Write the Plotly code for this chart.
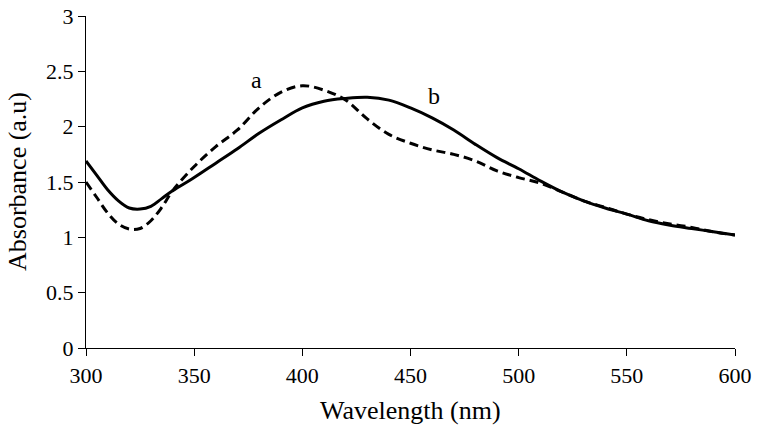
import plotly.graph_objects as go

wl_b = [300, 305, 310, 315, 320, 325, 330, 335, 340, 350, 360, 370, 380, 390, 400, 410, 420, 430,
        440, 450, 460, 470, 480, 490, 500, 510, 520, 530, 540, 550, 560, 570, 580, 590, 600]
abs_b = [1.69, 1.56, 1.43, 1.33, 1.265, 1.255, 1.28, 1.35, 1.42, 1.54, 1.67, 1.80, 1.94, 2.06, 2.17,
         2.23, 2.255, 2.265, 2.24, 2.17, 2.08, 1.97, 1.84, 1.72, 1.62, 1.51, 1.41, 1.33, 1.265, 1.21,
         1.15, 1.11, 1.08, 1.05, 1.02]

wl_a = [300, 305, 310, 315, 320, 325, 330, 335, 340, 350, 360, 370, 380, 390, 400, 410, 420, 430,
        440, 450, 460, 470, 480, 490, 500, 510, 520, 530, 540, 550, 560, 570, 580, 590, 600]
abs_a = [1.50, 1.36, 1.22, 1.12, 1.075, 1.08, 1.15, 1.27, 1.42, 1.64, 1.82, 1.97, 2.17, 2.31, 2.37,
         2.33, 2.24, 2.07, 1.93, 1.85, 1.79, 1.75, 1.69, 1.60, 1.54, 1.49, 1.41, 1.33, 1.27, 1.21,
         1.16, 1.12, 1.09, 1.05, 1.02]

labels = ["a", "b"]
label_x = [379, 461]
label_y = [2.42, 2.28]

x_ticks = [300, 350, 400, 450, 500, 550, 600]
y_ticks = [0, 0.5, 1, 1.5, 2, 2.5, 3]

x_title = "Wavelength (nm)"
y_title = "Absorbance (a.u)"

FONT = "Liberation Serif"

fig = go.Figure()
fig.add_trace(go.Scatter(x=wl_a, y=abs_a, mode="lines", name="a",
                         line=dict(color="black", width=3, dash="9px,5px", shape="spline")))
fig.add_trace(go.Scatter(x=wl_b, y=abs_b, mode="lines", name="b",
                         line=dict(color="black", width=3, shape="spline")))

for t, lx, ly in zip(labels, label_x, label_y):
    fig.add_annotation(x=lx, y=ly, text=t, showarrow=False,
                       font=dict(family=FONT, size=24, color="black"))

# axis titles as annotations for precise placement
fig.add_annotation(xref="paper", yref="paper", x=0.5, y=0, yshift=-62, yanchor="middle",
                   text=x_title, showarrow=False, font=dict(family=FONT, size=26, color="black"))
fig.add_annotation(xref="paper", yref="paper", x=0, y=0.5, xshift=-69, xanchor="center",
                   textangle=-90, text=y_title, showarrow=False,
                   font=dict(family=FONT, size=26, color="black"))

fig.update_layout(
    width=758, height=440,
    margin=dict(l=86, r=23, t=16, b=92, autoexpand=False),
    paper_bgcolor="white", plot_bgcolor="white",
    showlegend=False,
    font=dict(family=FONT, size=22, color="black"),
)
fig.update_xaxes(range=[300, 600], tickvals=x_ticks, ticks="outside", ticklen=7, tickwidth=1.3,
                 tickcolor="black", showline=True, linecolor="black", linewidth=1.3,
                 showgrid=False, zeroline=False, automargin=False, ticklabeloverflow="allow",
                 tickfont=dict(family=FONT, size=22))
fig.update_yaxes(range=[0, 3], tickvals=y_ticks, ticks="outside", ticklen=7, tickwidth=1.3,
                 tickcolor="black", showline=True, linecolor="black", linewidth=1.3,
                 showgrid=False, zeroline=False, automargin=False, ticklabeloverflow="allow",
                 tickfont=dict(family=FONT, size=22))

fig.write_html("out.html", config={"displayModeBar": False},
               post_script="document.body.style.margin='0';")
